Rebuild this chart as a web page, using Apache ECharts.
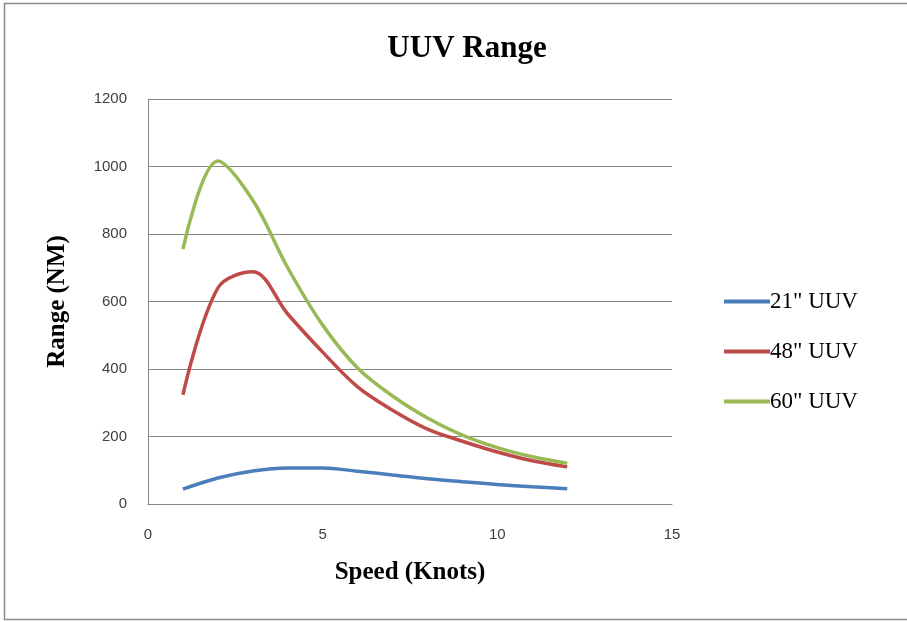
<!DOCTYPE html>
<html><head><meta charset="utf-8">
<script src="https://cdn.jsdelivr.net/npm/echarts@6/dist/echarts.min.js"></script>
<style>html,body{margin:0;padding:0;background:#fff}#c{width:907px;height:622px}</style>
</head><body><div id="c"></div>
<script>
const speeds = [1,2,3,4,5,6,7,8,9,10,11,12];
const uuv21 = [44,77,98,107,107,97,86,75,66,58,51,45];
const uuv48 = [323,640,688,563,450,347,278,222,186,154,128,110];
const uuv60 = [755,1016,900,700,530,403,320,255,204,167,140,121];
const seriesNames = ['21" UUV','48" UUV','60" UUV'];
const colors = ['#4a7ebb','#be4b48','#98b954'];
const xTicks = {min:0,max:15,interval:5};
const yTicks = {min:0,max:1200,interval:200};

const pair = (ys) => speeds.map((x,i)=>[x,ys[i]]);
const chart = echarts.init(document.getElementById('c'));
chart.setOption({
  animation:false,
  backgroundColor:'#fff',
  title:{text:'UUV Range',left:462,top:28,textAlign:'center',
    textStyle:{fontFamily:'Liberation Serif',fontWeight:'bold',fontSize:31,color:'#000'}},
  grid:{left:148,right:235,top:99,bottom:118},
  legend:{orient:'vertical',left:719,top:285,itemWidth:46,itemHeight:4,itemGap:27,icon:'rect',
    textStyle:{fontFamily:'Liberation Serif',fontSize:23,color:'#000',padding:[0,0,0,-5]},
    data:seriesNames},
  xAxis:{type:'value',min:xTicks.min,max:xTicks.max,interval:xTicks.interval,
    name:'Speed (Knots)',nameLocation:'middle',nameGap:56,
    nameTextStyle:{fontFamily:'Liberation Serif',fontWeight:'bold',fontSize:25,color:'#000'},
    axisLine:{show:true,lineStyle:{color:'#868686',width:1}},
    axisTick:{show:false},
    splitLine:{show:false},
    axisLabel:{fontFamily:'Liberation Sans',fontSize:15,color:'#404040',margin:23,formatter:v=>String(v)}},
  yAxis:{type:'value',min:yTicks.min,max:yTicks.max,interval:yTicks.interval,
    name:'Range (NM)',nameLocation:'middle',nameGap:78,
    nameTextStyle:{fontFamily:'Liberation Serif',fontWeight:'bold',fontSize:25,color:'#000'},
    axisLine:{show:true,lineStyle:{color:'#868686',width:1}},
    axisTick:{show:false},
    splitLine:{show:true,lineStyle:{color:'#868686',width:1}},
    axisLabel:{fontFamily:'Liberation Sans',fontSize:15,color:'#404040',margin:21,formatter:v=>String(v)}},
  series:[uuv21,uuv48,uuv60].map((d,i)=>({
    name:seriesNames[i],type:'line',smooth:0.35,symbol:'none',data:pair(d),
    lineStyle:{color:colors[i],width:3.5},itemStyle:{color:colors[i]}})),
  graphic:[{type:'rect',shape:{x:4.5,y:3.5,width:910,height:616},
    style:{fill:'none',stroke:'#8c8c8c',lineWidth:1.5},silent:true}]
});
</script></body></html>
